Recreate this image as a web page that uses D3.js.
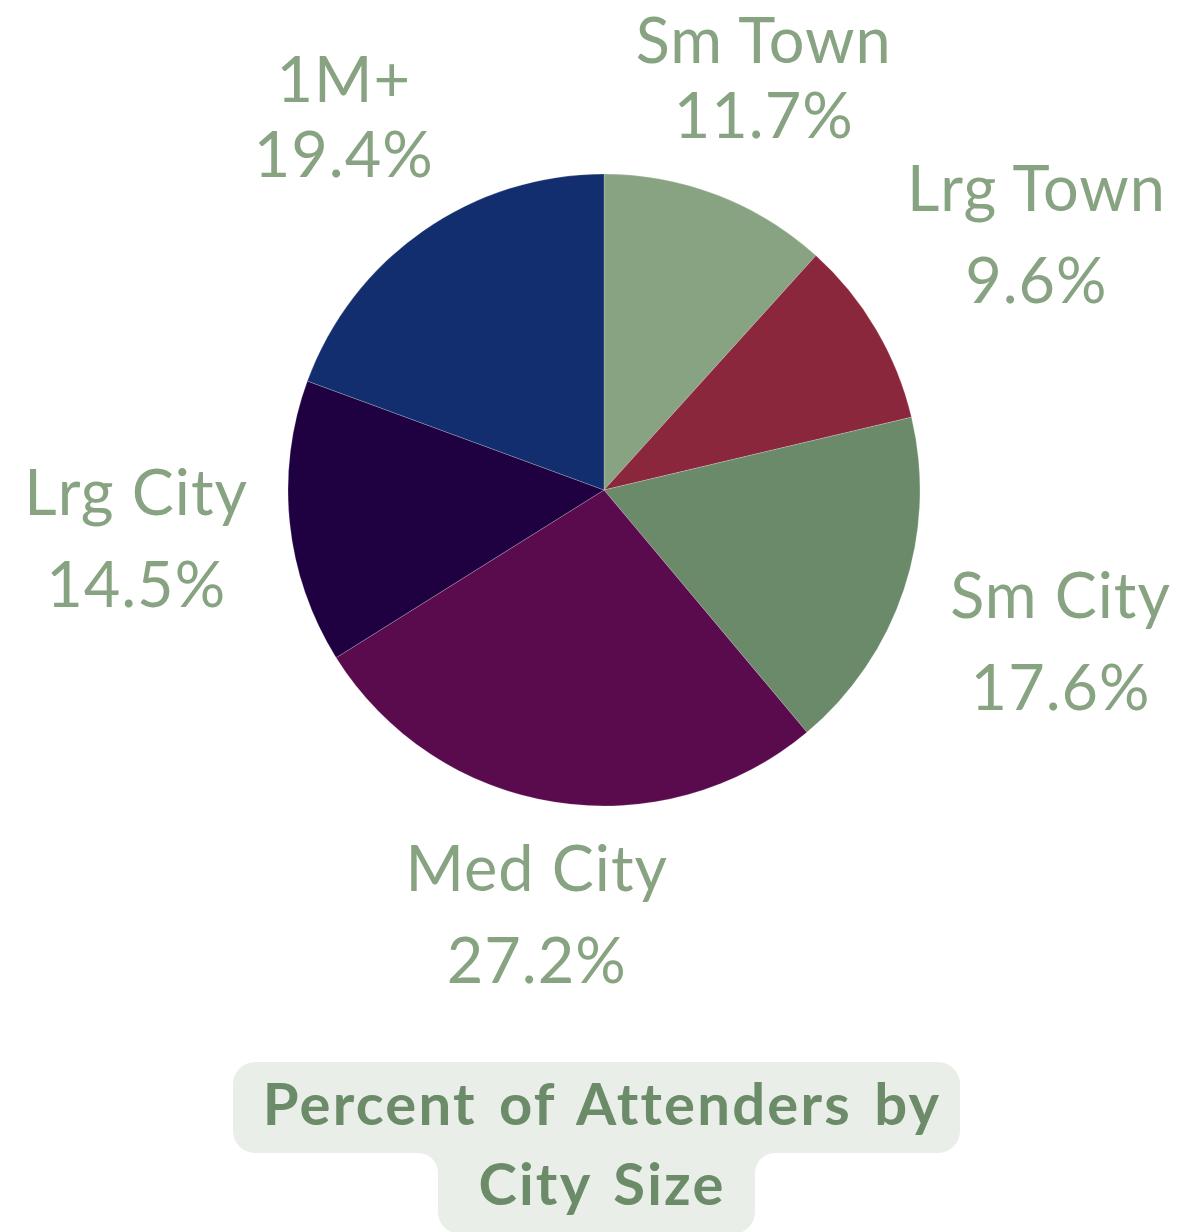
<!DOCTYPE html>
<html>
<head>
<meta charset="utf-8">
<script src="https://cdn.jsdelivr.net/npm/d3@7"></script>
<style>
  body { margin: 0; background: #fff; }
</style>
</head>
<body>
<div id="chart"></div>
<script>
const width = 1180
const height = 1232

// data
const categories = ["Sm Town", "Lrg Town", "Sm City", "Med City", "Lrg City", "1M+"]
const percents = [11.7, 9.6, 17.6, 27.2, 14.5, 19.4]
const colors = ["#87a382", "#8b273d", "#6a8a69", "#5a0b4e", "#1f0041", "#132e6e"]
const titleLines = ["Percent of Attenders by", "City Size"]

const cx = 604, cy = 490, radius = 316
const labelGap = 356   // distance from centre to nearest edge of a label block
const fontSize = 63
const labelColor = "#87a382"

const svg = d3.select("#chart")
    .append("svg")
    .attr("width", width)
    .attr("height", height)
    .style("font-family", "Lato, sans-serif");

const data = categories.map((c, i) => ({ name: c, value: percents[i], color: colors[i] }))

const pie = d3.pie().sort(null).value(d => d.value)
const arc = d3.arc().innerRadius(0).outerRadius(radius)
const arcs = pie(data)

const g = svg.append("g").attr("transform", `translate(${cx},${cy})`)

g.selectAll("path")
    .data(arcs)
    .enter()
    .append("path")
    .attr("d", arc)
    .attr("fill", d => d.data.color)
    .attr("stroke", "rgba(255,255,255,0.35)")
    .attr("stroke-width", 0.6);

// labels, pushed out along the slice middle until the block clears the gap
const labels = g.selectAll("g.label")
    .data(arcs)
    .enter()
    .append("g")
    .attr("class", "label")
    .style("font-size", fontSize + "px")
    .style("font-weight", 400)
    .style("letter-spacing", "1px")
    .attr("fill", labelColor);

labels.each(function (d) {
    const lg = d3.select(this)
    const a = (d.startAngle + d.endAngle) / 2
    const gap = Math.cos(a) > 0.7 ? 75 : 92
    const t1 = lg.append("text").attr("text-anchor", "middle").attr("y", 0).text(d.data.name)
    const t2 = lg.append("text").attr("text-anchor", "middle").attr("y", gap).text(d.data.value.toFixed(1) + "%")
    const w = Math.max(t1.node().getComputedTextLength(), t2.node().getComputedTextLength())
    const asc = fontSize * 0.72
    const h = gap + asc
    const sx = Math.sin(a), sy = -Math.cos(a)
    const near = t => Math.hypot(Math.max(0, Math.abs(t * sx) - w / 2), Math.max(0, Math.abs(t * sy) - h / 2))
    let lo = 0, hi = 1200
    for (let k = 0; k < 60; k++) {
        const mid = (lo + hi) / 2
        if (near(mid) < labelGap) lo = mid; else hi = mid
    }
    const t = (lo + hi) / 2
    let ty = t * sy - (gap - asc) / 2
    // keep the whole text box inside the page
    const top = cy + ty + lg.node().getBBox().y
    if (top < 1) ty += 1 - top
    lg.attr("transform", `translate(${t * sx},${ty})`)
});

// title with pill-shaped background
const r = 22, f = 20
const x1 = 233, x2 = 960, y1 = 1062, y2 = 1153
const x3 = 438, x4 = 755, y3 = 1234
const bg = `M${x1 + r},${y1} H${x2 - r} A${r},${r} 0 0 1 ${x2},${y1 + r} V${y2 - r} A${r},${r} 0 0 1 ${x2 - r},${y2}
 H${x4 + f} A${f},${f} 0 0 0 ${x4},${y2 + f} V${y3 - r} A${r},${r} 0 0 1 ${x4 - r},${y3} H${x3 + r} A${r},${r} 0 0 1 ${x3},${y3 - r}
 V${y2 + f} A${f},${f} 0 0 0 ${x3 - f},${y2} H${x1 + r} A${r},${r} 0 0 1 ${x1},${y2 - r} V${y1 + r} A${r},${r} 0 0 1 ${x1 + r},${y1} Z`
svg.append("path").attr("d", bg).attr("fill", "#e9eee8");

svg.append("g")
    .selectAll("text")
    .data(titleLines)
    .enter()
    .append("text")
    .attr("x", 602)
    .attr("y", (d, i) => 1125 + i * 80)
    .attr("text-anchor", "middle")
    .attr("fill", "#6b8b69")
    .style("font-size", "58px")
    .style("font-weight", 700)
    .style("letter-spacing", "2.2px")
    .style("word-spacing", "6px")
    .text(d => d);
</script>
</body>
</html>
